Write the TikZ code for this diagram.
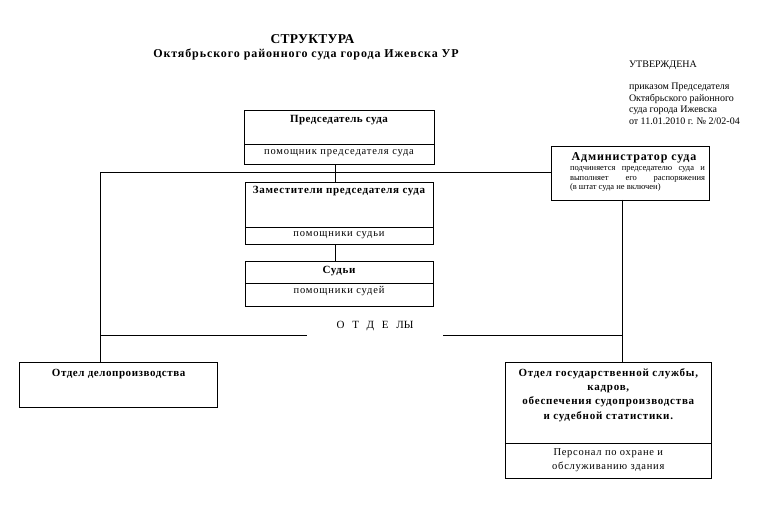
\documentclass[tikz,border=0pt]{standalone}
\usepackage{fontspec}
\setmainfont{Liberation Serif}
\newcommand\myfs[2]{\fontsize{#1}{#1}\selectfont\addfontfeature{LetterSpace=#2}}
\begin{document}
\begin{tikzpicture}[x=1pt,y=-1pt,line width=0.9pt,
  box/.style={draw,line width=0.9pt,inner sep=0pt,outer sep=0pt},
  txt/.style={inner sep=0pt,outer sep=0pt,anchor=center},
  conn/.style={draw,line width=0.9pt}]
\useasboundingbox (0,0) rectangle (763,522);
\fill[white] (0,0) rectangle (763,522);
% title
\node[txt,font={\bfseries\myfs{13.5}{2}}] (title) at (312.5,39) {СТРУКТУРА};
\node[txt,font={\bfseries\myfs{12}{7.5}}] (subtitle) at (306,54) {Октябрьского районного суда города Ижевска УР};
% approval note
\node[txt,anchor=west,font={\myfs{10}{0.5}}] (utv) at (629,65) {УТВЕРЖДЕНА};
\node[txt,anchor=north west,align=left,font={\fontsize{10}{11.7}\selectfont}] (prikaz) at (629,83) {приказом Председателя\\Октябрьского районного\\суда города Ижевска\\от 11.01.2010 г. № 2/02-04};
% boxes
\node[box,minimum width=190,minimum height=53.8] (pred) at (339,137.6) {};
\node[box,minimum width=188.3,minimum height=62] (zam) at (339.2,213) {};
\node[box,minimum width=188.3,minimum height=45] (sud) at (339.2,284.2) {};
\node[box,minimum width=157.3,minimum height=53.3] (admin) at (630.3,173.3) {};
\node[box,minimum width=198,minimum height=45] (otd1) at (118.3,384.8) {};
\node[box,minimum width=206.7,minimum height=116] (otd2) at (608.3,420.3) {};
% dividers
\draw (pred.west |- 0,144) -- (pred.east |- 0,144);
\draw (zam.west |- 0,227.7) -- (zam.east |- 0,227.7);
\draw (sud.west |- 0,283.3) -- (sud.east |- 0,283.3);
\draw (otd2.west |- 0,443.3) -- (otd2.east |- 0,443.3);
% box texts
\node[txt,font={\bfseries\myfs{11}{4}}] (predt) at (339,120) {Председатель суда};
\node[txt,font={\myfs{10.5}{8}}] (predp) at (339,153.5) {помощник председателя суда};
\node[txt,font={\bfseries\myfs{11}{6}}] (zamt) at (339,191.5) {Заместители председателя суда};
\node[txt,font={\myfs{10.5}{8}}] (zamp) at (339,235.5) {помощники судьи};
\node[txt,font={\bfseries\myfs{11}{6}}] (sudt) at (339,271.5) {Судьи};
\node[txt,font={\myfs{10.5}{8}}] (sudp) at (339,291.5) {помощники судей};
\node[txt,font={\bfseries\myfs{12}{7}}] (admt) at (634,157.5) {Администратор суда};
\node[txt,anchor=north west,align=left,font={\fontsize{8.5}{9.5}\selectfont}] (admp) at (570,166.5) {\makebox[135pt][s]{подчиняется председателю суда и}\\
  \makebox[135pt][s]{выполняет\hfill его\hfill распоряжения}\\
  (в штат суда не включен)};
\node[txt,font={\bfseries\myfs{11}{5}}] (otd1t) at (118.6,374) {Отдел делопроизводства};
\node[txt,align=center,font={\fontsize{11}{14.3}\selectfont\bfseries\addfontfeature{LetterSpace=7}}] (otd2t) at (608.3,395) {Отдел государственной службы,\\кадров,\\обеспечения судопроизводства\\и судебной статистики.};
\node[txt,align=center,font={\fontsize{10.5}{14}\selectfont\addfontfeature{LetterSpace=7}}] (otd2p) at (608.3,460) {Персонал по охране и\\обслуживанию здания};
\node[txt,minimum width=136.6,minimum height=2,font={\myfs{11}{0}}] (otdely) at (375,335) {\raisebox{7pt}[0pt][0pt]{О\hspace{0.7em}Т\hspace{0.7em}Д\hspace{0.7em}Е\hspace{0.7em}ЛЫ}};
% connectors
\coordinate (tl) at (100,172.7);
\coordinate (av) at (622.5,0);
\coordinate (lk) at (335.3,0);
\draw[conn] (pred.south -| lk) -- (zam.north -| lk);
\draw[conn] (zam.south -| lk) -- (sud.north -| lk);
\draw[conn] (admin.west |- tl) -- (tl) -- (otd1.north -| tl);
\draw[conn] (tl |- otdely.west) -- (otdely.west);
\draw[conn] (otdely.east) -- (otdely.east -| av);
\draw[conn] (admin.south -| av) -- (otd2.north -| av);
\end{tikzpicture}
\end{document}
